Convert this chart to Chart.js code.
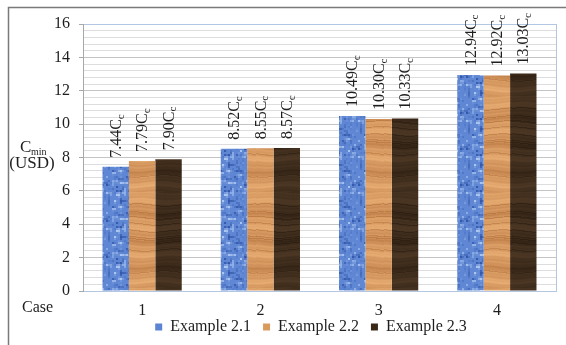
<!DOCTYPE html>
<html>
<head>
<meta charset="utf-8">
<script src="https://cdn.jsdelivr.net/npm/chart.js@4.4.1/dist/chart.umd.min.js"></script>
<style>
  html, body { margin: 0; padding: 0; background: #ffffff; }
  #wrap { width: 566px; height: 345px; position: relative; }
</style>
</head>
<body>
<div id="wrap"><canvas id="c" width="566" height="345"></canvas></div>
<script>
// Minimum cost per case for the three examples
const cases = ['1', '2', '3', '4'];
const example21 = [7.44, 8.52, 10.49, 12.94];
const example22 = [7.79, 8.55, 10.30, 12.92];
const example23 = [7.90, 8.57, 10.33, 13.03];
const seriesNames = ['Example 2.1', 'Example 2.2', 'Example 2.3'];
const yTickLabels = [0, 2, 4, 6, 8, 10, 12, 14, 16];

const SERIF = "'Liberation Serif', 'Times New Roman', serif";
const TEXT = '#1e1e1e';
const BLUE_EDGE = '#b3c6e2';

Chart.defaults.font.family = SERIF;
Chart.defaults.font.size = 16;
Chart.defaults.color = TEXT;

// ---- bar fill textures -------------------------------------------------
function hash(i, j) {
  const n = Math.sin(i * 127.1 + j * 311.7) * 43758.5453;
  return n - Math.floor(n);
}
function mix(a, b, t) {
  return [0, 1, 2].map(k => Math.round(a[k] + (b[k] - a[k]) * t));
}
function makeTile(w, h, colorAt) {
  const cv = document.createElement('canvas');
  cv.width = w; cv.height = h;
  const c = cv.getContext('2d');
  const img = c.createImageData(w, h);
  for (let y = 0; y < h; y++) {
    for (let x = 0; x < w; x++) {
      const col = colorAt(x, y);
      const p = (y * w + x) * 4;
      img.data[p] = col[0]; img.data[p + 1] = col[1]; img.data[p + 2] = col[2]; img.data[p + 3] = 255;
    }
  }
  c.putImageData(img, 0, 0);
  return c.createPattern(cv, 'repeat');
}
// mottled blue cloth
function bluePattern() {
  const dark = [52, 88, 170], mid = [95, 135, 212], light = [172, 198, 240];
  return makeTile(36, 36, (x, y) => {
    const cx = Math.floor(x / 2), cy = Math.floor(y / 2);
    const n = (hash(cx % 18, cy % 18) * 0.6 + hash((cx + 1) % 18, cy % 18) * 0.2 + hash(cx % 18, (cy + 1) % 18) * 0.2);
    if (n > 0.66) return mix(mid, light, Math.min(1, (n - 0.66) * 4));
    if (n < 0.36) return mix(mid, dark, Math.min(1, (0.36 - n) * 4));
    return mid;
  });
}
// horizontal wood grain
function woodPattern(darkC, lightC, w, h, lineRate) {
  return makeTile(w, h, (x, y) => {
    const yy = y + 1.2 * Math.sin(x * 0.11 + y * 0.05);
    let t = 0.6 + 0.18 * Math.sin(yy * 0.23) + 0.1 * Math.sin(yy * 0.71 + 1.3) + 0.06 * Math.sin(yy * 1.9 + 0.4);
    const row = Math.floor(yy);
    if (hash(row, 3) > lineRate) t -= 0.3;
    t += (hash(x, y) - 0.5) * 0.05;
    t = Math.max(0, Math.min(1, t));
    return mix(darkC, lightC, t);
  });
}

const fills = [
  bluePattern(),
  woodPattern([180, 114, 60], [236, 178, 120], 64, 96, 0.9),
  woodPattern([40, 27, 15], [80, 58, 38], 64, 96, 0.88)
];
const legendColors = ['#5b84d2', '#d99a5e', '#3a2818'];

// ---- plugins -----------------------------------------------------------
const valueLabels = {
  id: 'valueLabels',
  afterDatasetsDraw(chart) {
    const ctx = chart.ctx;
    ctx.save();
    ctx.fillStyle = TEXT;
    chart.data.datasets.forEach((ds, di) => {
      chart.getDatasetMeta(di).data.forEach((el, i) => {
        const main = ds.data[i].toFixed(2) + 'C';
        ctx.save();
        ctx.translate(el.x + 1, el.y - 9);
        ctx.rotate(-Math.PI / 2);
        ctx.textAlign = 'left';
        ctx.textBaseline = 'middle';
        ctx.font = '16px ' + SERIF;
        ctx.fillText(main, 0, 0);
        const w = ctx.measureText(main).width;
        ctx.font = '11px ' + SERIF;
        ctx.fillText('c', w, 4);
        ctx.restore();
      });
    });
    ctx.restore();
  }
};

// centre the legend row under the plot rather than the whole canvas
const legendShift = {
  id: 'legendShift',
  afterLayout(chart) {
    const lg = chart.legend;
    if (lg) { lg.left += 33; lg.right += 33; }
  }
};

const frameAndTitles = {
  id: 'frameAndTitles',
  afterDraw(chart) {
    const ctx = chart.ctx;
    const a = chart.chartArea;
    ctx.save();
    // right edge of the plot area
    ctx.strokeStyle = BLUE_EDGE;
    ctx.lineWidth = 1;
    ctx.beginPath();
    ctx.moveTo(Math.round(a.right) + 0.5, a.top);
    ctx.lineTo(Math.round(a.right) + 0.5, a.bottom);
    ctx.stroke();
    // outer frame
    ctx.strokeStyle = '#7a7a7a';
    ctx.lineWidth = 1.5;
    ctx.beginPath();
    ctx.moveTo(8.5, 345);
    ctx.lineTo(8.5, 7.5);
    ctx.lineTo(566, 7.5);
    ctx.stroke();
    // y axis title
    ctx.fillStyle = TEXT;
    ctx.textBaseline = 'alphabetic';
    ctx.textAlign = 'left';
    ctx.font = '17px ' + SERIF;
    ctx.fillText('C', 20, 152);
    ctx.font = '10px ' + SERIF;
    ctx.fillText('min', 31, 155);
    ctx.textAlign = 'center';
    ctx.font = '17px ' + SERIF;
    ctx.fillText('(USD)', 32, 168);
    // x axis title
    ctx.textAlign = 'left';
    ctx.font = '16px ' + SERIF;
    ctx.fillText('Case', 22, 311.5);
    ctx.restore();
  }
};

// ---- chart -------------------------------------------------------------
const isMajor = v => yTickLabels.some(t => Math.abs(t - v) < 1e-6);

new Chart(document.getElementById('c'), {
  type: 'bar',
  data: {
    labels: cases,
    datasets: [example21, example22, example23].map((d, i) => ({
      label: seriesNames[i],
      data: d,
      backgroundColor: fills[i],
      borderWidth: 0,
      categoryPercentage: 0.67,
      barPercentage: 1.0
    }))
  },
  options: {
    responsive: false,
    animation: false,
    devicePixelRatio: 1,
    layout: { padding: { left: 0, right: 10, top: 24, bottom: 0 } },
    plugins: {
      tooltip: { enabled: false },
      legend: {
        position: 'bottom',
        labels: {
          font: { family: SERIF, size: 16 },
          color: TEXT,
          boxWidth: 7,
          boxHeight: 7,
          padding: 12,
          generateLabels: chart => seriesNames.map((name, i) => ({
            text: name,
            fillStyle: legendColors[i],
            strokeStyle: legendColors[i],
            lineWidth: 0,
            hidden: false,
            datasetIndex: i,
            fontColor: TEXT
          }))
        }
      }
    },
    scales: {
      x: {
        grid: { display: false, drawTicks: false },
        border: { color: BLUE_EDGE, width: 1 },
        ticks: { font: { family: SERIF, size: 16 }, color: TEXT, padding: 10 },
        afterFit: s => { s.height = 16; },
        // let the case numbers sit below the thin axis box without clipping
        afterUpdate: s => { s._computeLabelArea = () => undefined; }
      },
      y: {
        min: 0,
        max: 16,
        border: { color: '#a8a8a8', width: 1 },
        grid: {
          color: c => {
            const v = c.tick ? c.tick.value : 0;
            if (Math.abs(v - 16) < 1e-6) return BLUE_EDGE;
            return isMajor(v) ? '#c4c4c4' : '#dddddd';
          },
          tickColor: c => (c.tick && isMajor(c.tick.value)) ? '#a8a8a8' : 'rgba(0,0,0,0)',
          tickLength: 4,
          lineWidth: 1
        },
        ticks: {
          stepSize: 0.4,
          autoSkip: false,
          padding: 9,
          font: { family: SERIF, size: 16 },
          color: TEXT,
          callback: v => isMajor(v) ? String(Math.round(v)) : ''
        },
        afterFit: s => { s.width = 83; }
      }
    }
  },
  plugins: [valueLabels, legendShift, frameAndTitles]
});
</script>
</body>
</html>
